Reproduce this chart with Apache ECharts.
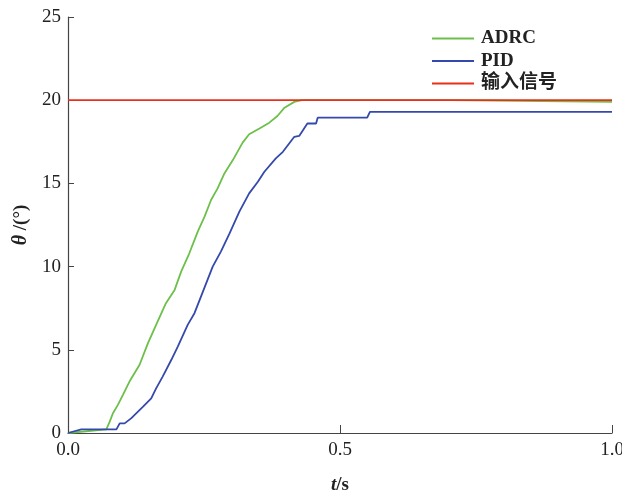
<!DOCTYPE html>
<html><head><meta charset="utf-8">
<script src="https://cdn.jsdelivr.net/npm/echarts@6/dist/echarts.min.js"></script>
<style>html,body{margin:0;padding:0;background:#fff}#c{width:622px;height:496px}</style>
</head><body><div id="c"></div>
<script>
const seriesNames = ['ADRC', 'PID', '输入信号'];
const seriesColors = ['#6cc04a', '#3549ad', '#e8301c'];

const adrcT = [0, 0.0705, 0.0767, 0.0826, 0.0917, 0.101, 0.113, 0.1316, 0.147, 0.162, 0.18, 0.196, 0.208, 0.223, 0.2385, 0.251, 0.263, 0.275, 0.2875, 0.303, 0.321, 0.333, 0.352, 0.37, 0.385, 0.398, 0.416, 0.43, 0.7, 1.0];
const adrcY = [0, 0.22, 0.68, 1.19, 1.69, 2.29, 3.09, 4.1, 5.4, 6.5, 7.8, 8.6, 9.7, 10.8, 12.1, 13.0, 14.0, 14.7, 15.6, 16.4, 17.45, 17.95, 18.3, 18.65, 19.05, 19.55, 19.9, 20.0, 20.0, 19.9];

const pidT = [0, 0.0245, 0.089, 0.095, 0.104, 0.116, 0.138, 0.153, 0.162, 0.174, 0.19, 0.202, 0.22, 0.2325, 0.248, 0.266, 0.281, 0.297, 0.315, 0.333, 0.349, 0.361, 0.382, 0.395, 0.416, 0.425, 0.44, 0.456, 0.459, 0.55, 0.555, 1.0];
const pidY = [0, 0.22, 0.22, 0.58, 0.58, 0.88, 1.58, 2.08, 2.68, 3.39, 4.4, 5.2, 6.5, 7.2, 8.5, 10.0, 10.9, 12.0, 13.3, 14.4, 15.1, 15.7, 16.5, 16.9, 17.8, 17.85, 18.6, 18.6, 18.95, 18.95, 19.3, 19.3];

const inputT = [0, 1.0];
const inputY = [20, 20];

const zip = (a, b) => a.map((v, i) => [v, b[i]]);
const font = '"Liberation Serif", "DejaVu Serif", serif';

const chart = echarts.init(document.getElementById('c'));
chart.setOption({
  animation: false,
  grid: { left: 68, right: 10, top: 17, bottom: 63, containLabel: false, outerBoundsMode: 'none' },
  legend: {
    orient: 'vertical', left: 427, top: 24,
    itemWidth: 42, itemHeight: 2, itemGap: 3.5,
    textStyle: { fontFamily: '"Liberation Serif", "Noto Sans CJK SC", serif', fontSize: 19, fontWeight: 'bold', color: '#222', padding: [0, 0, 0, 2] },
    data: seriesNames.map((n, i) => ({ name: n, icon: 'rect', itemStyle: { color: seriesColors[i] } }))
  },
  xAxis: {
    type: 'value', min: 0, max: 1, interval: 0.5,
    name: '{i|t}/s', nameLocation: 'middle', nameGap: 43,
    nameTextStyle: { fontFamily: font, fontSize: 19, fontWeight: 'bold', color: '#222',
      rich: { i: { fontFamily: font, fontSize: 19, fontStyle: 'italic', fontWeight: 'bold', color: '#222' } } },
    axisLine: { lineStyle: { color: '#444', width: 1.2 } },
    axisTick: { inside: true, length: 8, lineStyle: { color: '#444' } },
    axisLabel: { fontFamily: font, fontSize: 19, color: '#222', margin: 8, formatter: v => v.toFixed(1) },
    splitLine: { show: false }
  },
  yAxis: {
    type: 'value', min: 0, max: 25, interval: 5,
    name: '{i|θ} /(°)', nameLocation: 'middle', nameGap: 30, nameRotate: 90,
    nameTextStyle: { fontFamily: font, fontSize: 19, fontWeight: 'bold', color: '#222',
      rich: { i: { fontFamily: font, fontSize: 20, fontStyle: 'italic', fontWeight: 'bold', color: '#222' } } },
    axisLine: { show: true, lineStyle: { color: '#444', width: 1.2 } },
    axisTick: { show: true, inside: true, length: 6, lineStyle: { color: '#444' } },
    axisLabel: { fontFamily: font, fontSize: 19, color: '#222', margin: 7 },
    splitLine: { show: false }
  },
  series: [
    { name: seriesNames[0], type: 'line', symbol: 'none', data: zip(adrcT, adrcY), lineStyle: { color: seriesColors[0], width: 1.8 }, itemStyle: { color: seriesColors[0] }, z: 3 },
    { name: seriesNames[1], type: 'line', symbol: 'none', data: zip(pidT, pidY), lineStyle: { color: seriesColors[1], width: 1.8 }, itemStyle: { color: seriesColors[1] }, z: 3 },
    { name: seriesNames[2], type: 'line', symbol: 'none', data: zip(inputT, inputY), lineStyle: { color: seriesColors[2], width: 1.8 }, itemStyle: { color: seriesColors[2] }, z: 4 }
  ]
});
</script></body></html>
